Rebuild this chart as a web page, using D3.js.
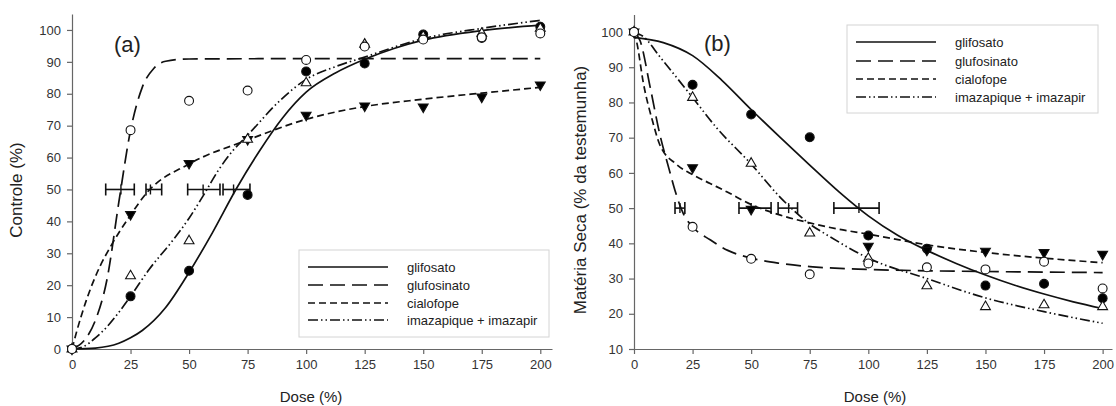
<!DOCTYPE html>
<html>
<head>
<meta charset="utf-8">
<script src="https://cdn.jsdelivr.net/npm/d3@7"></script>
<style>
  body { margin: 0; background: #fff; }
  svg { font-family: "Liberation Sans", Arial, sans-serif; }
  .axis path, .axis line { stroke: #666; stroke-width: 1.2; }
  .axis text { fill: #333; font-size: 13px; }
</style>
</head>
<body>
<svg id="chart" width="1116" height="406"></svg>
<script>
// --- Data ---
const doses = [0, 25, 50, 75, 100, 125, 150, 175, 200];
const xTicks = [0, 25, 50, 75, 100, 125, 150, 175, 200];
const seriesNames = ["glifosato", "glufosinato", "cialofope", "imazapique + imazapir"];

// panel (a): Controle (%)
const aGlifosato   = [0, 16.5, 24.5, 48.3, 87, 89.5, 98.6, 97.5, 101];
const aGlufosinato = [0, 68.6, 77.8, 81, 90.6, 94.8, 97, 97.7, 98.9];
const aCialofope   = [0, 42.2, 58.2, 65.7, 73.3, 76.2, 75.9, 79, 82.8];
const aImazapique  = [0, 22.9, 33.9, 65.7, 83.4, 95.5, 98, 98.9, 100.5];

// panel (b): Matéria Seca (% da testemunha)
const bGlifosato   = [100, 85, 76.6, 70.1, 42.2, 38.5, 28, 28.5, 24.4];
const bGlufosinato = [100, 44.7, 35.6, 31.2, 34.3, 33.2, 32.6, 34.8, 27.2];
const bCialofope   = [100, 61.5, 49.7, null, 39.2, 38.1, 37.8, 37.4, 36.9];
const bImazapique  = [100, 81.4, 62.7, 42.9, 35.7, 27.9, 22, 22.5, 22];

// fitted curves, [dose, value]
const aCurveGlifosato = [[0,0],[10,0.3],[20,1.8],[25,3.5],[30,5.8],[40,13],[50,24],[60,36.5],[70,50],[80,62],[90,72.5],[100,80.5],[112.5,86.5],[125,90.8],[137.5,94.2],[150,96.8],[175,99.8],[200,101.5]];
const aCurveGlufosinato = [[0,0],[5,2.5],[10,9],[15,22],[20,46],[25,68.5],[30,82],[35,88],[40,90.2],[50,90.9],[100,91],[200,91]];
const aCurveCialofope = [[0,0],[2,5.5],[6,15],[12,26],[16,31.5],[25,42],[32,49],[50,58],[75,65.5],[100,72],[125,76],[150,78.3],[175,80.2],[200,82]];
const aCurveImazapique = [[0,0],[5,0.8],[10,3.5],[15,7],[20,11.5],[25,16.5],[33,25],[43,34],[50,41],[56,48],[62.5,56],[68.5,62],[75,67],[89,78],[100,84.5],[112.5,88.5],[125,91.5],[150,97.3],[175,100.5],[200,103]];

const bCurveGlifosato = [[0,98.5],[12.5,97],[25,93.3],[37.5,86.3],[50,78],[62.5,70],[75,62.2],[87.5,54.6],[100,47.8],[112.5,42.3],[125,38],[137.5,34.3],[150,31],[162.5,28.1],[175,25.6],[187.5,23.4],[200,21.5]];
const bCurveGlufosinato = [[0,100],[2.6,97.5],[7,84],[11,71],[15,61],[17.5,55],[21,48.5],[25,44.7],[32.5,41],[40,38],[50,35.8],[62.5,34.3],[75,33.4],[100,32.6],[125,32.2],[150,32],[200,31.7]];
const bCurveCialofope = [[0,100],[1.2,97],[4,85.5],[8,74.5],[11,68],[18,62.5],[25,59.5],[32.5,57],[40,54.5],[50,51],[62.5,48],[75,45.8],[87.5,44],[100,42.6],[125,39.6],[150,37.4],[175,35.8],[200,34.5]];
const bCurveImazapique = [[0,100],[4,98.7],[11,93],[25,81.4],[35,73],[50,62.5],[62.5,53],[75,45.5],[83.6,41.9],[100,35.8],[125,30],[150,24.5],[175,20.6],[200,17.3]];

// ED50 confidence intervals [low, estimate, high] at 50 %
const aEd50 = [[14.4, 20.9, 26.6], [31.6, 33.5, 38.3], [49.4, 56, 63.2], [64.5, 69, 76]];
const bEd50 = [[17.5, 19.6, 21.7], [44.8, 50, 58.5], [61.5, 66, 69.8], [85.3, 96, 104.6]];

// --- Styles per series ---
const dashes = [null, "15,7", "7,4", "10,3,1.5,3,1.5,3"];
const markerType = ["circle", "circle", "down", "up"];
const markerFill = ["#000", "#fff", "#000", "#fff"];

const svg = d3.select("#chart");

function drawPanel(cfg) {
  const g = svg.append("g");
  const x = d3.scaleLinear().domain(cfg.xDomain).range(cfg.xRange);
  const y = d3.scaleLinear().domain(cfg.yDomain).range(cfg.yRange);

  g.append("g")
    .attr("class", "axis")
    .attr("transform", `translate(0,${cfg.yRange[0]})`)
    .call(d3.axisBottom(x).tickValues(xTicks).tickSize(5).tickPadding(6).tickSizeOuter(0));

  g.append("g")
    .attr("class", "axis")
    .attr("transform", `translate(${cfg.xRange[0]},0)`)
    .call(d3.axisLeft(y).tickValues(cfg.yTicks).tickSize(5).tickPadding(6).tickSizeOuter(0));

  // axis titles
  g.append("text")
    .attr("x", cfg.xLabelX).attr("y", 402)
    .attr("text-anchor", "middle")
    .attr("font-size", 15).attr("fill", "#222")
    .text("Dose (%)");
  g.append("text")
    .attr("transform", `translate(${cfg.yLabelX},${cfg.yLabelY}) rotate(-90)`)
    .attr("text-anchor", "middle")
    .attr("font-size", 17).attr("fill", "#222")
    .text(cfg.yLabel);

  g.append("text")
    .attr("x", cfg.tagX).attr("y", cfg.tagY)
    .attr("font-size", 22).attr("fill", "#222")
    .text(cfg.tag);

  // fitted curves
  const line = d3.line()
    .x(d => x(d[0]))
    .y(d => y(d[1]))
    .curve(d3.curveMonotoneX);

  cfg.curves.forEach((c, i) => {
    g.append("path")
      .datum(c)
      .attr("d", line)
      .attr("fill", "none")
      .attr("stroke", "#111")
      .attr("stroke-width", 1.7)
      .attr("stroke-dasharray", dashes[i]);
  });

  // ED50 bars
  cfg.ed50.forEach(e => {
    const yy = y(50);
    g.append("line")
      .attr("x1", x(e[0])).attr("x2", x(e[2]))
      .attr("y1", yy).attr("y2", yy)
      .attr("stroke", "#111").attr("stroke-width", 1.6);
    [e[0], e[2]].forEach(v => {
      g.append("line")
        .attr("x1", x(v)).attr("x2", x(v))
        .attr("y1", yy - 6).attr("y2", yy + 6)
        .attr("stroke", "#111").attr("stroke-width", 1.6);
    });
    g.append("line")
      .attr("x1", x(e[1])).attr("x2", x(e[1]))
      .attr("y1", yy - 5).attr("y2", yy + 5)
      .attr("stroke", "#111").attr("stroke-width", 1.4);
  });

  // points (drawn so the open circle sits on top at the origin)
  const order = [0, 2, 3, 1];
  order.forEach(i => {
    const vals = cfg.points[i];
    const sym = markerType[i] === "circle"
      ? d3.symbol().type(d3.symbolCircle).size(62)
      : d3.symbol().type(d3.symbolTriangle).size(42);
    g.selectAll(null)
      .data(doses.map((d, k) => [d, vals[k]]).filter(p => p[1] != null))
      .enter()
      .append("path")
      .attr("d", sym())
      .attr("transform", p => `translate(${x(p[0])},${y(p[1])})` + (markerType[i] === "down" ? " rotate(180)" : ""))
      .attr("fill", markerFill[i])
      .attr("stroke", "#111")
      .attr("stroke-width", 1.1);
  });

  // legend
  const lg = g.append("g");
  lg.append("rect")
    .attr("x", cfg.legend.x).attr("y", cfg.legend.y)
    .attr("width", cfg.legend.w).attr("height", cfg.legend.h)
    .attr("fill", "#fff").attr("stroke", "#d4d4d4").attr("stroke-width", 1);
  seriesNames.forEach((name, i) => {
    const ly = cfg.legend.rows[i];
    lg.append("line")
      .attr("x1", cfg.legend.x + 9).attr("x2", cfg.legend.x + 89)
      .attr("y1", ly).attr("y2", ly)
      .attr("stroke", "#111").attr("stroke-width", 1.7)
      .attr("stroke-dasharray", dashes[i]);
    lg.append("text")
      .attr("x", cfg.legend.x + 108).attr("y", ly + 4.5)
      .attr("font-size", 13).attr("fill", "#222")
      .text(name);
  });
}

drawPanel({
  xDomain: [0, 205], xRange: [72, 552],
  yDomain: [0, 105], yRange: [349, 14],
  yTicks: d3.range(0, 101, 10),
  yLabel: "Controle (%)", yLabelX: 22, yLabelY: 190,
  xLabelX: 311,
  tag: "(a)", tagX: 114, tagY: 52,
  curves: [aCurveGlifosato, aCurveGlufosinato, aCurveCialofope, aCurveImazapique],
  points: [aGlifosato, aGlufosinato, aCialofope, aImazapique],
  ed50: aEd50,
  legend: { x: 299, y: 250, w: 250, h: 87, rows: [267, 285, 303, 320] }
});

drawPanel({
  xDomain: [0, 204], xRange: [634, 1112],
  yDomain: [10, 105], yRange: [349, 14.4],
  yTicks: d3.range(10, 101, 10),
  yLabel: "Matéria Seca (% da testemunha)", yLabelX: 586, yLabelY: 190,
  xLabelX: 875,
  tag: "(b)", tagX: 704, tagY: 51,
  curves: [bCurveGlifosato, bCurveGlufosinato, bCurveCialofope, bCurveImazapique],
  points: [bGlifosato, bGlufosinato, bCialofope, bImazapique],
  ed50: bEd50,
  legend: { x: 847, y: 25, w: 251, h: 88, rows: [42, 61, 79, 97] }
});
</script>
</body>
</html>
